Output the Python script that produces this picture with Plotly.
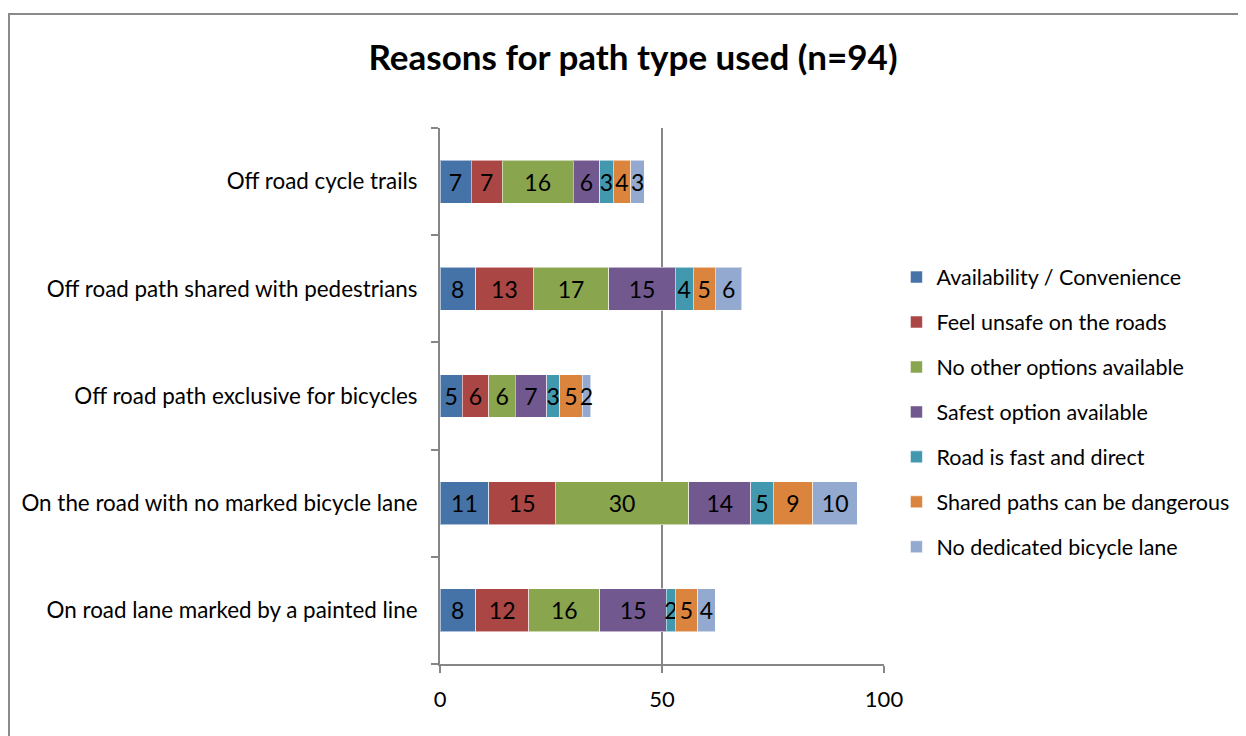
import plotly.graph_objects as go

# categories, bottom to top as drawn
categories = [
    'On road lane marked by a painted line',
    'On the road with no marked bicycle lane',
    'Off road path exclusive for bicycles',
    'Off road path shared with pedestrians',
    'Off road cycle trails',
]

reasons = [
    'Availability / Convenience',
    'Feel unsafe on the roads',
    'No other options available',
    'Safest option available',
    'Road is fast and direct',
    'Shared paths can be dangerous',
    'No dedicated bicycle lane',
]

availability = [8, 11, 5, 8, 7]
feel_unsafe = [12, 15, 6, 13, 7]
no_other = [16, 30, 6, 17, 16]
safest = [15, 14, 7, 15, 6]
fast_direct = [2, 5, 3, 4, 3]
shared_dangerous = [5, 9, 5, 5, 4]
no_dedicated = [4, 10, 2, 6, 3]

series = [availability, feel_unsafe, no_other, safest,
          fast_direct, shared_dangerous, no_dedicated]

colors = ['#4572A7', '#AA4643', '#89A54E', '#71588F',
          '#4198AF', '#DB843D', '#93A9CF']

FONT = 'Lato'
AXIS_GRAY = '#868686'

fig = go.Figure()
for name, vals, color in zip(reasons, series, colors):
    fig.add_trace(go.Bar(
        y=categories,
        x=vals,
        name=name,
        orientation='h',
        marker=dict(color=color, line=dict(color='rgba(255,255,255,0.55)', width=1)),
        text=[str(v) for v in vals],
        textposition='inside',
        insidetextanchor='middle',
        constraintext='none',
        textfont=dict(family=FONT, size=23, color='black'),
        legendgroup=name,
    ))

# chart border (Excel style frame); plot area spans 444 x 536 px
fig.add_shape(
    type='rect', xref='paper', yref='paper',
    x0=(9 - 440) / 444, x1=(1270 - 440) / 444,
    y0=(664 - 780) / 536, y1=1 + (128 - 14) / 536,
    line=dict(color='#8A8A8A', width=2),
    fillcolor='rgba(0,0,0,0)',
    layer='below',
)

fig.update_layout(
    barmode='stack',
    bargap=0.6,
    width=1238,
    height=728,
    margin=dict(l=432, r=362, t=120, b=72),
    paper_bgcolor='white',
    plot_bgcolor='white',
    font=dict(family=FONT, size=22, color='black'),
    title=dict(
        text='<b>Reasons for path type used (n=94)</b>',
        x=(633 - 8) / 1238, xanchor='center',
        y=1 - (58 - 8) / 728, yanchor='middle',
        font=dict(family=FONT, size=35, color='black'),
    ),
    legend=dict(
        x=1.028, xanchor='left',
        y=0.47, yanchor='middle',
        traceorder='grouped',
        tracegroupgap=14,
        font=dict(family=FONT, size=21.5),
        bgcolor='rgba(0,0,0,0)',
    ),
    showlegend=True,
)

fig.update_xaxes(
    range=[0, 100],
    tickvals=[0, 50, 100],
    showgrid=True,
    gridcolor=AXIS_GRAY,
    gridwidth=2,
    zeroline=False,
    showline=True,
    linecolor=AXIS_GRAY,
    linewidth=2,
    ticks='outside',
    ticklen=7,
    tickwidth=2,
    tickcolor=AXIS_GRAY,
    ticklabelstandoff=8,
    tickfont=dict(family=FONT, size=22),
    fixedrange=True,
)

fig.update_yaxes(
    categoryorder='array',
    categoryarray=categories,
    showline=True,
    linecolor=AXIS_GRAY,
    linewidth=2,
    ticks='outside',
    tickson='boundaries',
    ticklen=7,
    tickwidth=2,
    tickcolor=AXIS_GRAY,
    ticklabelstandoff=16,
    tickfont=dict(family=FONT, size=22.4),
    showgrid=False,
    fixedrange=True,
)

fig.write_html('out.html')
